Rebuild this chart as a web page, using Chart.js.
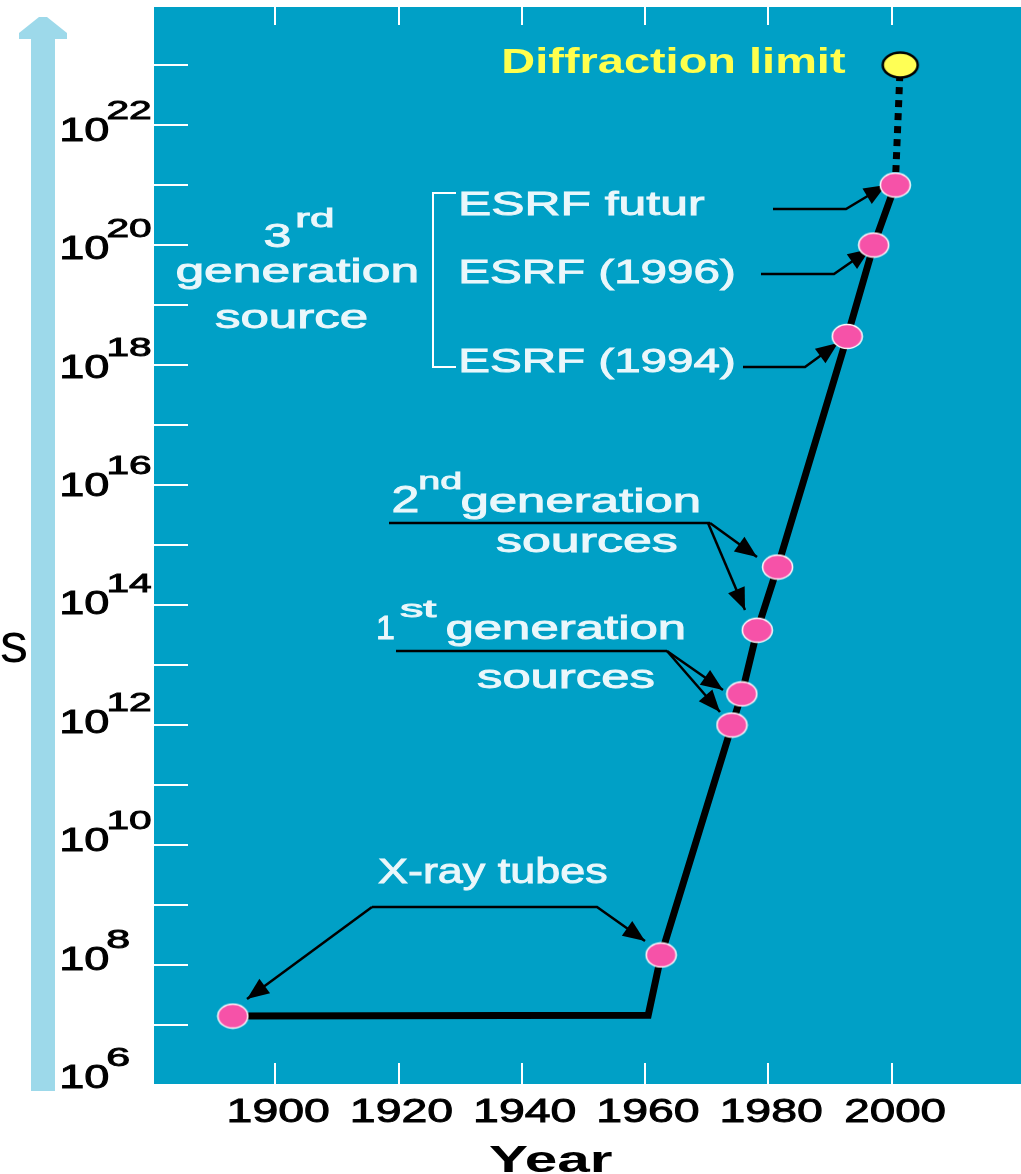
<!DOCTYPE html>
<html>
<head>
<meta charset="utf-8">
<title>Brilliance of X-ray sources</title>
<script src="https://cdn.jsdelivr.net/npm/chart.js@4.4.1/dist/chart.umd.min.js"></script>
<style>
  html, body { margin: 0; padding: 0; background: #fff; }
  canvas { display: block; }
</style>
</head>
<body>
<canvas id="chart" width="1021" height="1174"></canvas>
<script>
// X-ray sources: year and brilliance
const sourceYears = [1893.1, 1962.6, 1974.1, 1975.7, 1978.2, 1981.5, 1992.8, 1997.1, 2000.6];
const sourceBrilliance = [1.41e7, 1.47e8, 1.0e12, 3.3e12, 3.8e13, 4.3e14, 3.0e18, 1.0e20, 1.0e21];
// the tube curve stays flat until about 1960
const bendYear = 1960.5;
const bendBrilliance = 1.45e7;
// diffraction limit
const limitYear = 2001.4;
const limitBrilliance = 1.0e23;

const yearTicks = [1900, 1920, 1940, 1960, 1980, 2000];
const decadeTicks = [7, 8, 9, 10, 11, 12, 13, 14, 15, 16, 17, 18, 19, 20, 21, 22, 23];
const decadeLabels = [6, 8, 10, 12, 14, 16, 18, 20, 22];

const TEAL = '#00a0c6';
const PINK = '#f652a8';
const TEXT_LIGHT = '#eaf7fb';
const FONT = '"Liberation Sans", Arial, sans-serif';

// marker images (the original markers are slightly flattened ellipses)
function ellipseImage(w, h, fill, stroke, lw) {
    const c = document.createElement('canvas');
    c.width = w;
    c.height = h;
    const g = c.getContext('2d');
    g.beginPath();
    g.ellipse(w / 2, h / 2, w / 2 - lw, h / 2 - lw, 0, 0, Math.PI * 2);
    g.fillStyle = fill;
    g.fill();
    g.lineWidth = lw;
    g.strokeStyle = stroke;
    g.stroke();
    return c;
}
const pinkDot = ellipseImage(33, 27, PINK, '#ffffff', 1.5);
const yellowDot = ellipseImage(40, 30, '#ffff55', '#000000', 2.5);

// text squeezed/stretched so its ink spans the given width; a thin outline thickens the strokes
function wideText(ctx, str, left, baseline, size, width, color, weight) {
    ctx.save();
    ctx.font = (weight || 'normal') + ' ' + size + 'px ' + FONT;
    ctx.textAlign = 'left';
    ctx.textBaseline = 'alphabetic';
    const m = ctx.measureText(str);
    const ink = m.actualBoundingBoxLeft + m.actualBoundingBoxRight;
    ctx.translate(left, baseline);
    ctx.scale(width / ink, 1);
    ctx.fillStyle = color;
    ctx.fillText(str, m.actualBoundingBoxLeft, 0);
    if (!weight) {
        ctx.strokeStyle = color;
        ctx.lineWidth = 0.9;
        ctx.strokeText(str, m.actualBoundingBoxLeft, 0);
    }
    ctx.restore();
}

function arrow(ctx, pts, head) {
    ctx.beginPath();
    ctx.moveTo(pts[0][0], pts[0][1]);
    for (let i = 1; i < pts.length; i++) ctx.lineTo(pts[i][0], pts[i][1]);
    ctx.stroke();
    if (!head) return;
    const [x1, y1] = pts[pts.length - 2];
    const [x2, y2] = pts[pts.length - 1];
    const a = Math.atan2(y2 - y1, x2 - x1);
    const len = 22, hw = 9;
    ctx.beginPath();
    ctx.moveTo(x2, y2);
    ctx.lineTo(x2 - len * Math.cos(a) + hw * Math.sin(a), y2 - len * Math.sin(a) - hw * Math.cos(a));
    ctx.lineTo(x2 - len * Math.cos(a) - hw * Math.sin(a), y2 - len * Math.sin(a) + hw * Math.cos(a));
    ctx.closePath();
    ctx.fill();
}

const chartArt = {
    id: 'chartArt',
    beforeDraw(chart) {
        const { ctx, chartArea: a, scales } = chart;
        ctx.save();
        ctx.fillStyle = '#ffffff';
        ctx.fillRect(0, 0, chart.width, chart.height);

        // light blue arrow on the left
        ctx.fillStyle = '#9dd9ea';
        ctx.beginPath();
        ctx.moveTo(39, 17); ctx.lineTo(47, 17); ctx.lineTo(67, 33); ctx.lineTo(67, 39);
        ctx.lineTo(55, 39); ctx.lineTo(55, 1091); ctx.lineTo(31, 1091); ctx.lineTo(31, 39);
        ctx.lineTo(19, 39); ctx.lineTo(19, 33);
        ctx.closePath();
        ctx.fill();

        ctx.fillStyle = '#000';
        ctx.font = '56px ' + FONT;
        ctx.fillText('s', 0, 662);

        // plot background
        ctx.fillStyle = TEAL;
        ctx.fillRect(a.left, a.top, a.right - a.left, a.bottom - a.top);

        // white tick marks pointing inwards
        ctx.strokeStyle = '#ffffff';
        ctx.lineWidth = 2;
        decadeTicks.forEach(function (n) {
            const y = Math.round(scales.y.getPixelForValue(Math.pow(10, n)));
            ctx.beginPath();
            ctx.moveTo(a.left, y);
            ctx.lineTo(a.left + 34, y);
            ctx.stroke();
        });
        yearTicks.forEach(function (yr) {
            const x = Math.round(scales.x.getPixelForValue(yr));
            ctx.beginPath();
            ctx.moveTo(x, a.top);
            ctx.lineTo(x, a.top + 18);
            ctx.moveTo(x, a.bottom - 21);
            ctx.lineTo(x, a.bottom);
            ctx.stroke();
        });

        // y labels 10^n
        decadeLabels.forEach(function (n) {
            const ty = scales.y.getPixelForValue(Math.pow(10, n));
            const base = ty + 3 + (n - 6) * 0.8;
            wideText(ctx, '10', 62, base, 33, 47, '#000');
            const e = String(n);
            wideText(ctx, e, 108, base - 22, 26, 21.5 * e.length, '#000');
        });

        // x labels
        yearTicks.forEach(function (yr) {
            const cx = scales.x.getPixelForValue(yr) + 4;
            wideText(ctx, String(yr), cx - 50, 1122, 33, 100, '#000');
        });
        wideText(ctx, 'Year', 489, 1172, 37, 123, '#000', 'bold');
        ctx.restore();
    },
    beforeDatasetsDraw(chart) {
        const { ctx } = chart;
        ctx.save();
        // texts
        wideText(ctx, 'Diffraction limit', 504, 73, 35, 342, '#ffff4d', 'bold');
        wideText(ctx, 'ESRF futur', 461, 215, 34, 243, TEXT_LIGHT);
        wideText(ctx, 'ESRF (1996)', 461, 283, 34, 273, TEXT_LIGHT);
        wideText(ctx, 'ESRF (1994)', 461, 372, 34, 273, TEXT_LIGHT);

        wideText(ctx, '3', 265, 247, 34, 25, TEXT_LIGHT);
        wideText(ctx, 'rd', 297, 227, 26, 35, TEXT_LIGHT);
        wideText(ctx, 'generation', 177, 282, 33, 240, TEXT_LIGHT);
        wideText(ctx, 'source', 215, 328, 33, 151, TEXT_LIGHT);

        wideText(ctx, '2', 393, 512, 36, 25, TEXT_LIGHT);
        wideText(ctx, 'nd', 420, 489, 24, 40, TEXT_LIGHT);
        wideText(ctx, 'generation', 462, 512, 33, 237, TEXT_LIGHT);
        wideText(ctx, 'sources', 496, 552, 33, 181, TEXT_LIGHT);

        wideText(ctx, '1', 378, 639, 34, 16, TEXT_LIGHT);
        wideText(ctx, 'st', 400, 617, 24, 37, TEXT_LIGHT);
        wideText(ctx, 'generation', 447, 639, 33, 237, TEXT_LIGHT);
        wideText(ctx, 'sources', 477, 688, 33, 177, TEXT_LIGHT);

        wideText(ctx, 'X-ray tubes', 378, 883, 35, 229, TEXT_LIGHT);

        // bracket for the 3rd generation
        ctx.strokeStyle = '#ffffff';
        ctx.lineWidth = 2;
        ctx.beginPath();
        ctx.moveTo(456, 193); ctx.lineTo(433, 193); ctx.lineTo(433, 367); ctx.lineTo(456, 367);
        ctx.stroke();

        // leader arrows
        ctx.strokeStyle = '#000';
        ctx.fillStyle = '#000';
        ctx.lineWidth = 2.5;
        arrow(ctx, [[773, 209], [846, 209], [886, 185]], true);
        arrow(ctx, [[761, 274], [834, 274], [870, 249]], true);
        arrow(ctx, [[743, 367], [805, 367], [838, 343]], true);

        arrow(ctx, [[389, 523], [710, 523]], false);
        arrow(ctx, [[710, 523], [757, 557]], true);
        arrow(ctx, [[708, 523], [745, 610]], true);

        arrow(ctx, [[396, 651], [667, 651]], false);
        arrow(ctx, [[667, 651], [723, 690]], true);
        arrow(ctx, [[667, 651], [720, 712]], true);

        arrow(ctx, [[372, 907], [247, 999]], true);
        arrow(ctx, [[372, 907], [597, 907], [645, 941]], true);
        ctx.restore();
    }
};

const curve = sourceYears.map(function (yr, i) { return { x: yr, y: sourceBrilliance[i] }; });
curve.splice(1, 0, { x: bendYear, y: bendBrilliance });
const last = sourceYears.length - 1;

new Chart(document.getElementById('chart'), {
    type: 'line',
    data: {
        datasets: [
            {
                data: sourceYears.map(function (yr, i) { return { x: yr, y: sourceBrilliance[i] }; }),
                showLine: false,
                pointStyle: pinkDot,
                pointRadius: 12,
                order: 0
            },
            {
                data: [{ x: limitYear, y: limitBrilliance }],
                showLine: false,
                pointStyle: yellowDot,
                pointRadius: 12,
                order: 0
            },
            {
                data: curve,
                borderColor: '#000',
                borderWidth: 7,
                tension: 0,
                pointRadius: 0,
                order: 1
            },
            {
                data: [{ x: sourceYears[last], y: sourceBrilliance[last] }, { x: limitYear, y: limitBrilliance }],
                borderColor: '#000',
                borderWidth: 7,
                borderDash: [7, 6],
                tension: 0,
                pointRadius: 0,
                order: 2
            }
        ]
    },
    options: {
        responsive: false,
        animation: false,
        devicePixelRatio: 1,
        layout: { autoPadding: false, padding: { left: 154, top: 7, right: 0, bottom: 90 } },
        plugins: { legend: { display: false }, tooltip: { enabled: false } },
        scales: {
            x: { type: 'linear', min: 1880.3, max: 2021, display: false },
            y: { type: 'logarithmic', min: 1.04e6, max: 9.27e23, display: false }
        }
    },
    plugins: [chartArt]
});
</script>
</body>
</html>
